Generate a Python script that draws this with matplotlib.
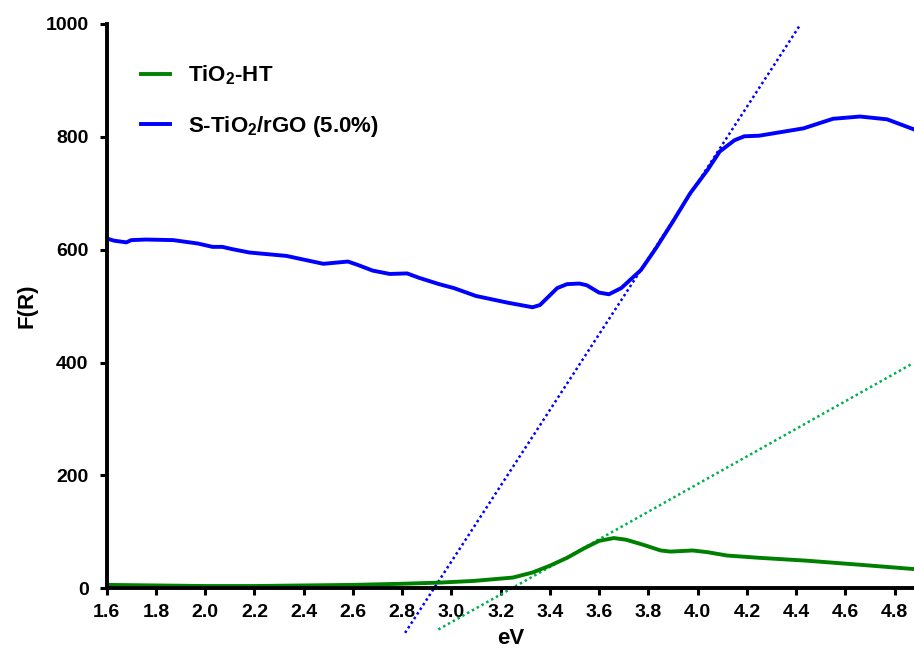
import matplotlib.pyplot as plt
import numpy as np

plt.rcParams['font.family'] = ['Liberation Sans', 'DejaVu Sans']
plt.rcParams['font.weight'] = 'bold'
plt.rcParams['mathtext.fontset'] = 'custom'
plt.rcParams['mathtext.rm'] = 'Liberation Sans:bold'
plt.rcParams['mathtext.bf'] = 'Liberation Sans:bold'
plt.rcParams['mathtext.default'] = 'bf'

# Kubelka-Munk curves
ev_ht = [1.60, 1.80, 2.00, 2.20, 2.40, 2.60, 2.80, 2.95, 3.09, 3.25, 3.33, 3.40,
         3.47, 3.54, 3.60, 3.66, 3.71, 3.78, 3.85, 3.89, 3.98, 4.04, 4.12, 4.25,
         4.44, 4.65, 4.88]
fr_ht = [6, 5, 4, 4, 5, 6, 8, 10, 13, 19, 28, 40,
         54, 71, 84, 89, 86, 77, 67, 65, 67, 64, 58, 54,
         49, 42, 34]

ev_rgo = [1.60, 1.63, 1.68, 1.70, 1.76, 1.87, 1.97, 2.03, 2.07, 2.11, 2.18, 2.33,
          2.48, 2.58, 2.62, 2.68, 2.75, 2.82, 2.87, 2.95, 3.01, 3.10, 3.23, 3.28,
          3.33, 3.36, 3.43, 3.47, 3.52, 3.55, 3.60, 3.64, 3.69, 3.77, 3.83, 3.90,
          3.97, 4.04, 4.09, 4.15, 4.19, 4.25, 4.43, 4.55, 4.66, 4.77, 4.88]
fr_rgo = [620, 616, 613, 617, 618, 617, 611, 605, 605, 601, 595, 589,
          575, 579, 573, 563, 557, 558, 550, 539, 532, 518, 506, 502,
          498, 502, 532, 539, 540, 537, 524, 521, 532, 564, 602, 650,
          700, 741, 774, 794, 801, 802, 815, 832, 836, 831, 813]

# band-gap tangents (end points)
tan_ht_x = [2.947, 4.876]
tan_ht_y = [-73, 399]
tan_rgo_x = [2.812, 4.416]
tan_rgo_y = [-79, 998]

fig = plt.figure(figsize=(9.14, 6.57), dpi=100)
ax = fig.add_axes([0.1167, 0.1046, 0.8833, 0.8589])

ax.plot(tan_rgo_x, tan_rgo_y, color='#0000FF', lw=1.8, ls=(0, (1, 1.2)), clip_on=False)
ax.plot(tan_ht_x, tan_ht_y, color='#00B050', lw=1.8, ls=(0, (1, 1.2)), clip_on=False)
ax.plot(ev_rgo, fr_rgo, color='#0000FF', lw=2.8, label='S-TiO$_2$/rGO (5.0%)')
ax.plot(ev_ht, fr_ht, color='#008000', lw=2.8, label='TiO$_2$-HT')

ax.set_xlim(1.6, 4.879)
ax.set_ylim(0, 1000)
ax.set_xticks(np.arange(1.6, 4.81, 0.2))
ax.set_xticklabels(['%.1f' % v for v in np.arange(1.6, 4.81, 0.2)])
ax.set_yticks([0, 200, 400, 600, 800, 1000])

for s in ['top', 'right']:
    ax.spines[s].set_visible(False)
for s in ['left', 'bottom']:
    ax.spines[s].set_linewidth(2.8)
ax.tick_params(direction='out', length=5, width=2.2, labelsize=14)
ax.tick_params(axis='y', pad=8)
ax.tick_params(axis='x', pad=6)

ax.set_xlabel('eV', fontsize=16, fontweight='bold', labelpad=5)
ax.set_ylabel('F(R)', fontsize=16, fontweight='bold', labelpad=6)

h, l = ax.get_legend_handles_labels()
ax.legend(h[::-1], l[::-1], loc='upper left', bbox_to_anchor=(0.018, 0.965),
          frameon=False, fontsize=16, handlelength=1.3, handletextpad=0.8,
          labelspacing=1.2)

fig.savefig('out.png', dpi=100)
